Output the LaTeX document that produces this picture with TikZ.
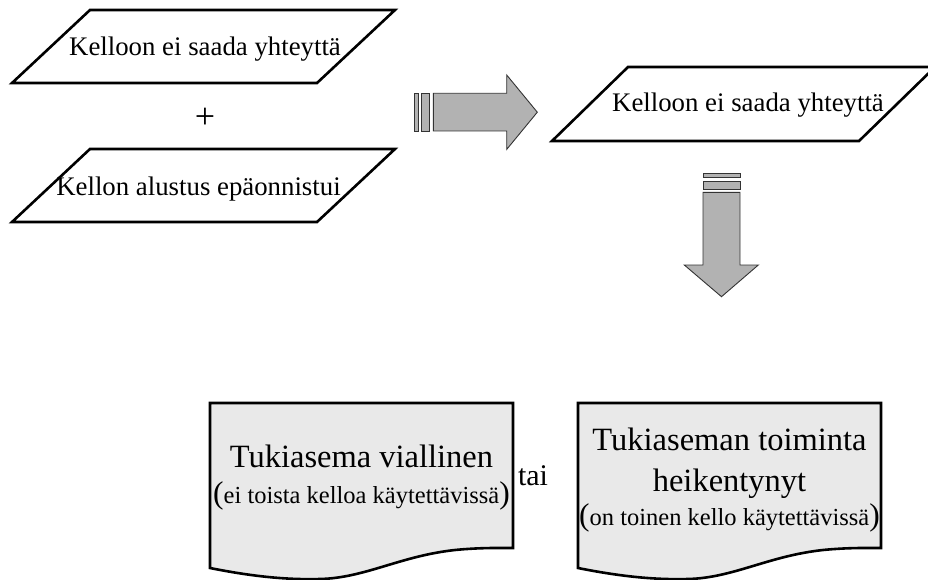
\documentclass[tikz,border=0pt]{standalone}
\usepackage{fontspec}
\setmainfont{Liberation Serif}
\definecolor{arrowgray}{RGB}{178,178,178}
\definecolor{docgray}{RGB}{233,233,233}
\newcommand{\fsz}[1]{\fontsize{#1}{#1}\selectfont}
\tikzset{
  iobox/.style={draw=black, line width=2.6pt, line join=miter, fill=white},
  docbox/.style={draw=black, line width=2.6pt, line join=miter, fill=docgray},
  blockarrow/.style={draw=black!80, line width=0.9pt, fill=arrowgray},
  txt/.style={anchor=base, inner sep=0pt, outer sep=0pt},
  iotext/.style={txt, font=\fsz{26.8}},
  bigtext/.style={txt, font=\fsz{32.5}},
  pics/docshape/.style={code={
    \path[docbox] (0,0) -- (303,0) -- (303,145)
      .. controls (290,145) and (270,144.5) .. (245,147)
      .. controls (190,153) and (155,175) .. (110,176)
      .. controls (75,177) and (40,173) .. (0,165) -- cycle;
  }}
}
\newcommand{\paren}[1]{{\fsz{31.5}#1}}
\begin{document}
\begin{tikzpicture}[x=1pt, y=-1pt]
  \useasboundingbox (0,0) rectangle (928,580);
  \clip (0,0) rectangle (928,580);

  % input parallelograms on the left
  \path[iobox] (90,10) -- (395,10) -- (317,83) -- (12,83) -- cycle;
  \node[iotext] (inA) at (205,56) {Kelloon ei saada yhteyttä};
  \node[txt, font=\fsz{36}] (plus) at (205,129) {+};
  \path[iobox] (90,149) -- (395,149) -- (317,222) -- (12,222) -- cycle;
  \node[iotext] (inB) at (198.5,196) {Kellon alustus epäonnistui};

  % block arrow to the right
  \path[blockarrow] (414.3,93.3) rectangle (418.3,131);
  \path[blockarrow] (421.7,93.3) rectangle (429.3,131);
  \path[blockarrow] (433.3,93.3) -- (506.7,93.3) -- (506.7,75) -- (537.3,112.2)
    -- (506.7,149.4) -- (506.7,131) -- (433.3,131) -- cycle;

  % combined result
  \path[iobox] (628,67) -- (935,67) -- (859,141) -- (552,141) -- cycle;
  \node[iotext] (res) at (748,111.5) {Kelloon ei saada yhteyttä};

  % block arrow downwards
  \path[blockarrow] (703,173.3) rectangle (740,177.3);
  \path[blockarrow] (703,181) rectangle (740,189);
  \path[blockarrow] (703,192.3) -- (703,265) -- (684.3,265) -- (721.5,296.7)
    -- (758.3,265) -- (740,265) -- (740,192.3) -- cycle;

  % two outcome documents
  \pic at (210,403) {docshape};
  \pic at (578,403) {docshape};

  \node[bigtext] (faultA) at (361.5,467) {Tukiasema viallinen};
  \node[txt] (faultB) at (361.5,503)
    {\paren{(}{\fsz{24.5}ei toista kelloa käytettävissä}\paren{)}};

  \node[txt, font=\fsz{30}] (or) at (533,485) {tai};

  \node[bigtext] (weakA) at (729.5,450) {Tukiaseman toiminta};
  \node[bigtext] (weakB) at (729.5,491) {heikentynyt};
  \node[txt] (weakC) at (729.5,525)
    {\paren{(}{\fsz{24.5}on toinen kello käytettävissä}\paren{)}};
\end{tikzpicture}
\end{document}
